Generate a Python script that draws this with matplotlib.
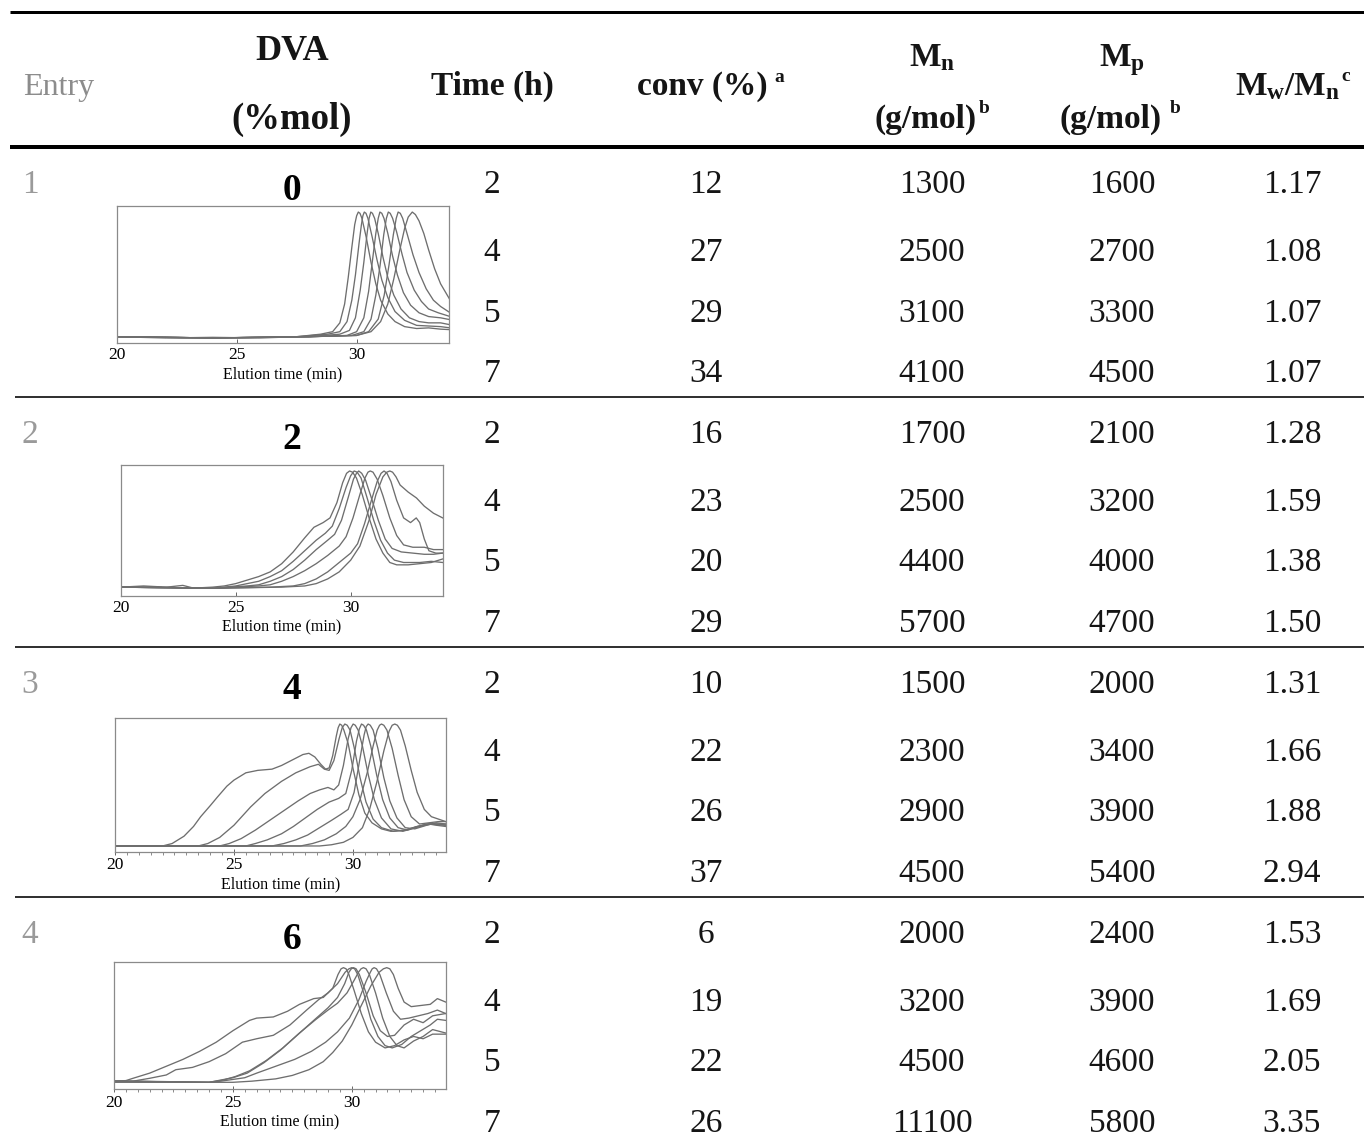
import matplotlib
matplotlib.use('Agg')
import matplotlib.pyplot as plt
from matplotlib.ticker import MultipleLocator

plt.rcParams['font.family'] = ['Liberation Serif', 'DejaVu Serif']
plt.rcParams['mathtext.fontset'] = 'custom'
plt.rcParams['mathtext.rm'] = 'Liberation Serif'
plt.rcParams['mathtext.bf'] = 'Liberation Serif:bold'
plt.rcParams['mathtext.it'] = 'Liberation Serif:italic'

# ---------------- table data ----------------
entries = ['1', '2', '3', '4']
dva = ['0', '2', '4', '6']
times = ['2', '4', '5', '7']
conv = [[12, 27, 29, 34], [16, 23, 20, 29], [10, 22, 26, 37], [6, 19, 22, 26]]
mn = [[1300, 2500, 3100, 4100], [1700, 2500, 4400, 5700],
      [1500, 2300, 2900, 4500], [2000, 3200, 4500, 11100]]
mp = [[1600, 2700, 3300, 4500], [2100, 3200, 4000, 4700],
      [2000, 3400, 3900, 5400], [2400, 3900, 4600, 5800]]
pdi = [['1.17', '1.08', '1.07', '1.07'], ['1.28', '1.59', '1.38', '1.50'],
       ['1.31', '1.66', '1.88', '2.94'], ['1.53', '1.69', '2.05', '3.35']]

# ---------------- GPC traces (elution time min, normalised signal) ----------------
gpc_dva0 = [
    [(20, 0.01), (22, 0.0), (24, 0.005), (26, 0.0), (27.5, 0.01), (28.5, 0.03), (29.0, 0.05), (29.3, 0.12),
     (29.5, 0.27), (29.65, 0.48), (29.8, 0.72), (29.92, 0.9), (30.0, 0.97), (30.07, 1.0), (30.14, 0.99),
     (30.22, 0.95), (30.4, 0.8), (30.6, 0.6), (30.8, 0.43), (31.0, 0.3), (31.3, 0.19), (31.6, 0.13),
     (32.0, 0.09), (32.5, 0.075), (33.0, 0.08), (33.5, 0.07), (33.9, 0.066)],
    [(20, 0.01), (24, 0.0), (27.5, 0.01), (28.8, 0.03), (29.3, 0.05), (29.6, 0.13), (29.8, 0.3), (29.95, 0.5),
     (30.1, 0.75), (30.2, 0.9), (30.26, 0.97), (30.32, 1.0), (30.39, 0.99), (30.47, 0.95), (30.65, 0.8),
     (30.85, 0.62), (31.05, 0.46), (31.3, 0.32), (31.6, 0.21), (32.0, 0.14), (32.5, 0.1), (33.0, 0.095),
     (33.5, 0.09), (33.9, 0.08)],
    [(20, 0.01), (24, 0.0), (28, 0.01), (29.3, 0.03), (29.7, 0.06), (29.95, 0.16), (30.15, 0.38), (30.3, 0.6),
     (30.43, 0.82), (30.52, 0.95), (30.59, 1.0), (30.66, 0.99), (30.75, 0.95), (30.9, 0.83), (31.1, 0.64),
     (31.3, 0.48), (31.55, 0.34), (31.85, 0.23), (32.2, 0.16), (32.6, 0.13), (33.0, 0.12), (33.5, 0.12),
     (33.9, 0.105)],
    [(20, 0.01), (24, 0.0), (28, 0.01), (29.6, 0.02), (30.0, 0.05), (30.3, 0.16), (30.5, 0.37), (30.65, 0.6),
     (30.8, 0.83), (30.9, 0.95), (30.97, 1.0), (31.05, 0.99), (31.14, 0.95), (31.3, 0.83), (31.5, 0.65),
     (31.7, 0.5), (31.95, 0.36), (32.25, 0.26), (32.6, 0.2), (33.0, 0.17), (33.5, 0.16), (33.9, 0.145)],
    [(20, 0.01), (24, 0.0), (28, 0.01), (29.8, 0.02), (30.3, 0.05), (30.6, 0.15), (30.8, 0.34), (30.98, 0.58),
     (31.13, 0.82), (31.24, 0.95), (31.32, 1.0), (31.4, 0.99), (31.5, 0.95), (31.67, 0.84), (31.9, 0.66),
     (32.1, 0.52), (32.4, 0.38), (32.7, 0.29), (33.0, 0.23), (33.4, 0.2), (33.9, 0.17)],
    [(20, 0.01), (24, 0.0), (28, 0.01), (30.0, 0.02), (30.5, 0.05), (30.9, 0.15), (31.15, 0.34), (31.35, 0.58),
     (31.53, 0.82), (31.65, 0.95), (31.73, 1.0), (31.82, 0.99), (31.92, 0.95), (32.1, 0.83), (32.35, 0.66),
     (32.6, 0.52), (32.9, 0.39), (33.2, 0.3), (33.5, 0.25), (33.9, 0.2)],
    [(20, 0.01), (24, 0.0), (28, 0.01), (30.0, 0.02), (30.6, 0.05), (31.0, 0.13), (31.3, 0.27), (31.55, 0.47),
     (31.8, 0.7), (32.0, 0.87), (32.15, 0.96), (32.32, 1.0), (32.45, 0.98), (32.6, 0.93), (32.8, 0.83),
     (33.0, 0.7), (33.25, 0.55), (33.5, 0.43), (33.9, 0.3)],
]

gpc_dva2 = [
    [(20, 0.01), (21, 0.02), (22, 0.01), (23, 0.0), (24, 0.01), (24.5, 0.02), (25.0, 0.04), (25.5, 0.07),
     (26.0, 0.1), (26.5, 0.14), (27.0, 0.21), (27.5, 0.31), (28.0, 0.43), (28.4, 0.52), (28.8, 0.56),
     (29.1, 0.6), (29.4, 0.73), (29.65, 0.9), (29.82, 0.98), (29.95, 1.0), (30.08, 0.99), (30.25, 0.94),
     (30.5, 0.8), (30.8, 0.6), (31.1, 0.42), (31.4, 0.3), (31.7, 0.22), (32.0, 0.2), (32.5, 0.2),
     (33.0, 0.21), (33.5, 0.22), (34, 0.25)],
    [(20, 0.01), (22, 0.01), (22.7, 0.025), (23.2, 0.0), (24, 0.0), (25.0, 0.02), (25.5, 0.04), (26.0, 0.06),
     (26.5, 0.1), (27.0, 0.15), (27.5, 0.23), (28.0, 0.32), (28.5, 0.41), (28.9, 0.47), (29.2, 0.53),
     (29.5, 0.68), (29.8, 0.86), (30.0, 0.96), (30.15, 1.0), (30.28, 0.99), (30.45, 0.94), (30.7, 0.78),
     (31.0, 0.58), (31.3, 0.41), (31.6, 0.3), (31.9, 0.24), (32.3, 0.22), (33.0, 0.22), (33.5, 0.23),
     (34, 0.22)],
    [(20, 0.01), (22, 0.005), (24, 0.0), (25.5, 0.02), (26.0, 0.03), (26.5, 0.06), (27.0, 0.1), (27.5, 0.16),
     (28.0, 0.24), (28.5, 0.33), (29.0, 0.41), (29.3, 0.46), (29.6, 0.58), (29.9, 0.78), (30.12, 0.93),
     (30.25, 0.98), (30.35, 1.0), (30.48, 0.98), (30.65, 0.92), (30.9, 0.77), (31.2, 0.58), (31.5, 0.42),
     (31.8, 0.34), (32.2, 0.31), (32.7, 0.3), (33.2, 0.29), (33.6, 0.29), (34, 0.3)],
    [(20, 0.01), (22, 0.005), (24, 0.0), (26.0, 0.02), (26.5, 0.03), (27.0, 0.06), (27.5, 0.1), (28.0, 0.15),
     (28.5, 0.21), (29.0, 0.28), (29.5, 0.36), (29.8, 0.44), (30.1, 0.6), (30.4, 0.8), (30.62, 0.94),
     (30.75, 0.99), (30.85, 1.0), (30.97, 0.99), (31.15, 0.93), (31.4, 0.79), (31.7, 0.6), (32.0, 0.45),
     (32.3, 0.37), (32.7, 0.35), (33.2, 0.35), (33.6, 0.33), (34, 0.33)],
    [(20, 0.01), (22, 0.005), (24, 0.0), (26.5, 0.01), (27.5, 0.02), (28.0, 0.04), (28.5, 0.08), (29.0, 0.14),
     (29.5, 0.22), (30.0, 0.3), (30.3, 0.38), (30.6, 0.55), (30.9, 0.75), (31.15, 0.91), (31.32, 0.98),
     (31.45, 1.0), (31.58, 0.98), (31.75, 0.91), (32.0, 0.75), (32.3, 0.6), (32.6, 0.56), (32.85, 0.6),
     (33.0, 0.56), (33.2, 0.42), (33.4, 0.32), (33.7, 0.3), (34, 0.3)],
    [(20, 0.01), (22, 0.005), (24, 0.0), (27.0, 0.01), (28.0, 0.02), (28.5, 0.04), (29.0, 0.08), (29.5, 0.14),
     (30.0, 0.24), (30.4, 0.36), (30.8, 0.58), (31.1, 0.8), (31.4, 0.95), (31.57, 0.99), (31.7, 1.0),
     (31.82, 0.99), (31.97, 0.95), (32.15, 0.88), (32.5, 0.82), (32.86, 0.77), (33.2, 0.7), (33.6, 0.64),
     (34, 0.6)],
]

gpc_dva4 = [
    [(20, 0.0), (22.0, 0.0), (22.4, 0.02), (22.9, 0.08), (23.3, 0.16), (23.6, 0.24), (24.0, 0.33),
     (24.3, 0.40), (24.7, 0.49), (25.0, 0.54), (25.5, 0.6), (26.0, 0.62), (26.6, 0.63), (27.0, 0.66),
     (27.5, 0.71), (27.9, 0.75), (28.15, 0.76), (28.4, 0.73), (28.65, 0.67), (28.85, 0.63), (29.0, 0.64),
     (29.15, 0.74), (29.3, 0.9), (29.38, 0.97), (29.45, 1.0), (29.53, 0.99), (29.62, 0.95), (29.8, 0.84),
     (30.0, 0.64), (30.25, 0.42), (30.5, 0.27), (30.8, 0.19), (31.2, 0.14), (31.6, 0.12), (32.2, 0.13),
     (32.7, 0.16), (33.2, 0.18), (33.5, 0.17), (33.9, 0.16)],
    [(20, 0.0), (23.5, 0.0), (23.9, 0.02), (24.4, 0.07), (25.0, 0.17), (25.7, 0.32), (26.3, 0.43),
     (27.0, 0.53), (27.6, 0.6), (28.2, 0.65), (28.55, 0.67), (28.8, 0.63), (29.0, 0.62), (29.2, 0.7),
     (29.42, 0.88), (29.55, 0.97), (29.66, 1.0), (29.76, 0.99), (29.88, 0.95), (30.05, 0.81), (30.3, 0.56),
     (30.55, 0.36), (30.85, 0.22), (31.2, 0.15), (31.7, 0.12), (32.2, 0.13), (32.7, 0.16), (33.2, 0.18),
     (33.9, 0.17)],
    [(20, 0.0), (24.4, 0.0), (24.8, 0.02), (25.3, 0.06), (25.9, 0.13), (26.5, 0.21), (27.1, 0.29),
     (27.7, 0.37), (28.2, 0.43), (28.6, 0.46), (28.95, 0.48), (29.2, 0.46), (29.4, 0.5), (29.6, 0.66),
     (29.8, 0.88), (29.92, 0.97), (30.01, 1.0), (30.1, 0.99), (30.22, 0.95), (30.4, 0.82), (30.65, 0.58),
     (30.9, 0.38), (31.2, 0.23), (31.6, 0.14), (32.1, 0.12), (32.6, 0.15), (33.1, 0.18), (33.5, 0.18),
     (33.9, 0.17)],
    [(20, 0.0), (25.5, 0.0), (25.9, 0.02), (26.4, 0.05), (27.0, 0.1), (27.5, 0.16), (28.0, 0.23),
     (28.5, 0.3), (29.0, 0.36), (29.4, 0.39), (29.7, 0.43), (29.95, 0.62), (30.15, 0.86), (30.27, 0.96),
     (30.36, 1.0), (30.45, 0.99), (30.57, 0.95), (30.75, 0.82), (31.0, 0.58), (31.25, 0.38), (31.55, 0.23),
     (31.9, 0.15), (32.3, 0.13), (32.8, 0.16), (33.3, 0.18), (33.9, 0.18)],
    [(20, 0.0), (26.6, 0.0), (27.1, 0.02), (27.6, 0.05), (28.1, 0.09), (28.6, 0.15), (29.1, 0.21),
     (29.5, 0.26), (29.8, 0.3), (30.05, 0.44), (30.3, 0.72), (30.47, 0.91), (30.56, 0.98), (30.64, 1.0),
     (30.73, 0.99), (30.85, 0.95), (31.05, 0.8), (31.3, 0.56), (31.55, 0.37), (31.85, 0.23), (32.2, 0.15),
     (32.6, 0.14), (33.1, 0.17), (33.5, 0.19), (33.9, 0.18)],
    [(20, 0.0), (27.8, 0.0), (28.3, 0.02), (28.8, 0.05), (29.3, 0.1), (29.7, 0.16), (30.0, 0.24),
     (30.3, 0.38), (30.6, 0.6), (30.85, 0.82), (31.02, 0.95), (31.12, 0.99), (31.2, 1.0), (31.3, 0.99),
     (31.43, 0.95), (31.65, 0.8), (31.9, 0.58), (32.15, 0.38), (32.45, 0.24), (32.8, 0.18), (33.2, 0.19),
     (33.6, 0.2), (33.9, 0.2)],
    [(20, 0.0), (28.6, 0.0), (29.1, 0.01), (29.6, 0.03), (30.0, 0.07), (30.4, 0.15), (30.7, 0.3),
     (31.0, 0.52), (31.3, 0.78), (31.52, 0.94), (31.65, 0.99), (31.76, 1.0), (31.87, 0.99), (32.0, 0.95),
     (32.2, 0.82), (32.45, 0.62), (32.7, 0.44), (33.0, 0.3), (33.3, 0.24), (33.6, 0.22), (33.9, 0.2)],
]

gpc_dva6 = [
    [(20, 0.01), (20.5, 0.015), (20.8, 0.035), (21.5, 0.08), (22.2, 0.14), (22.9, 0.2), (23.6, 0.27),
     (24.3, 0.35), (25.0, 0.45), (25.7, 0.54), (26.0, 0.56), (26.7, 0.57), (27.3, 0.62), (27.8, 0.68),
     (28.4, 0.73), (28.8, 0.74), (29.2, 0.82), (29.42, 0.94), (29.55, 0.99), (29.65, 1.0), (29.76, 0.99),
     (29.88, 0.94), (30.1, 0.8), (30.4, 0.6), (30.7, 0.44), (31.0, 0.35), (31.4, 0.3), (31.8, 0.32),
     (32.2, 0.37), (32.6, 0.4), (33.0, 0.38), (33.4, 0.42), (33.95, 0.42)],
    [(20, 0.01), (20.8, 0.01), (21.5, 0.035), (22.2, 0.064), (22.6, 0.11), (23.3, 0.13), (24.0, 0.18),
     (24.7, 0.25), (25.4, 0.35), (26.0, 0.38), (26.7, 0.41), (27.4, 0.5), (28.1, 0.63), (28.6, 0.72),
     (29.0, 0.78), (29.4, 0.86), (29.72, 0.96), (29.88, 0.99), (30.0, 1.0), (30.12, 0.99), (30.25, 0.94),
     (30.5, 0.78), (30.8, 0.55), (31.1, 0.4), (31.4, 0.32), (31.7, 0.3), (32.1, 0.33), (32.5, 0.4),
     (32.9, 0.45), (33.3, 0.5), (33.6, 0.55), (33.95, 0.54)],
    [(20, 0.01), (21, 0.01), (24, 0.0), (24.5, 0.02), (25.0, 0.04), (25.6, 0.08), (26.3, 0.17), (27.0, 0.28),
     (27.7, 0.41), (28.4, 0.54), (29.0, 0.65), (29.4, 0.74), (29.7, 0.86), (29.88, 0.96), (29.98, 0.99),
     (30.07, 1.0), (30.18, 0.99), (30.32, 0.94), (30.6, 0.78), (30.9, 0.58), (31.2, 0.45), (31.5, 0.4),
     (31.8, 0.41), (32.2, 0.5), (32.6, 0.55), (33.0, 0.52), (33.4, 0.58), (33.95, 0.6)],
    [(20, 0.01), (24, 0.0), (24.6, 0.02), (25.1, 0.05), (25.7, 0.1), (26.4, 0.19), (27.1, 0.3), (27.8, 0.43),
     (28.5, 0.55), (29.0, 0.63), (29.4, 0.69), (29.8, 0.78), (30.1, 0.89), (30.28, 0.96), (30.39, 0.99),
     (30.49, 1.0), (30.6, 0.99), (30.74, 0.94), (31.0, 0.78), (31.3, 0.56), (31.6, 0.4), (31.9, 0.32),
     (32.2, 0.3), (32.6, 0.36), (33.0, 0.4), (33.4, 0.46), (33.95, 0.43)],
    [(20, 0.01), (24, 0.0), (24.5, 0.01), (25.5, 0.04), (26.0, 0.08), (26.8, 0.14), (27.6, 0.2), (28.3, 0.27),
     (28.9, 0.35), (29.4, 0.44), (29.9, 0.56), (30.3, 0.72), (30.6, 0.88), (30.78, 0.96), (30.86, 0.99),
     (30.94, 1.0), (31.04, 0.99), (31.18, 0.94), (31.45, 0.78), (31.75, 0.62), (32.05, 0.55), (32.4, 0.56),
     (32.8, 0.58), (33.2, 0.6), (33.6, 0.63), (33.95, 0.6)],
    [(20, 0.0), (25, 0.0), (25.8, 0.01), (26.8, 0.03), (27.5, 0.06), (28.2, 0.11), (28.8, 0.18), (29.2, 0.26),
     (29.6, 0.36), (30.0, 0.5), (30.4, 0.67), (30.8, 0.84), (31.15, 0.96), (31.33, 0.99), (31.47, 1.0),
     (31.6, 0.99), (31.75, 0.94), (31.95, 0.82), (32.2, 0.7), (32.5, 0.66), (32.9, 0.67), (33.3, 0.68),
     (33.6, 0.73), (33.95, 0.7)],
]
gpc_sets = [gpc_dva0, gpc_dva2, gpc_dva4, gpc_dva6]
gpc_ticks = [20, 25, 30]

# ---------------- layout (pixels) ----------------
W, H = 1364, 1140
fig = plt.figure(figsize=(W / 100, H / 100), dpi=100)
bg = fig.add_axes([0, 0, 1, 1])
bg.set_xlim(0, W)
bg.set_ylim(H, 0)
bg.axis('off')

PX = 100 / 72.0


def put(x, y, s, size, bold=False, color='#151515', ha='center', cap=0.66):
    base = y + cap * size * PX / 2.0
    bg.text(x, base, s, fontsize=size, fontweight='bold' if bold else 'normal',
            color=color, ha=ha, va='baseline')


# rules
bg.plot([10, W], [12, 12], color='black', lw=3 * 0.72, solid_capstyle='butt')
bg.plot([10, W], [147, 147], color='black', lw=4 * 0.72, solid_capstyle='butt')
for yy in [397, 647, 897]:
    bg.plot([15, W], [yy, yy], color='black', lw=1.6 * 0.72, solid_capstyle='butt')

# header
put(23, 84, 'Entry', 23, color='#8c8c8c', ha='left')
put(292, 48, 'DVA', 26, bold=True)
put(292, 117, '(%mol)', 26.5, bold=True)
put(702, 84, 'conv (%)', 24, bold=True)
put(774, 76, 'a', 14, bold=True, ha='left')
put(492, 84, 'Time (h)', 24, bold=True)
put(932, 55, r'$\mathbf{M}_{\mathbf{n}}$', 24)
put(926, 117, '(g/mol)', 24, bold=True)
put(979, 107, 'b', 14, bold=True, ha='left')
put(1122, 55, r'$\mathbf{M}_{\mathbf{p}}$', 24)
put(1111, 117, '(g/mol)', 24, bold=True)
put(1170, 107, 'b', 14, bold=True, ha='left')
put(1288, 84, r'$\mathbf{M}_{\mathbf{w}}\mathbf{/M}_{\mathbf{n}}$', 24)
put(1341, 75, 'c', 14, bold=True, ha='left')

# body
row_y = [[182, 250, 311, 371], [432, 500, 560, 621], [682, 750, 810, 871], [932, 1000, 1060, 1121]]
dva_y = [188, 437, 687, 937]
col_x = {'time': 492, 'conv': 706, 'mn': 932, 'mp': 1122, 'pdi': 1292}
for g in range(4):
    put(30, row_y[g][0], entries[g], 24, color='#9a9a9a')
    put(292, dva_y[g], dva[g], 27, bold=True, color='black')
    for r in range(4):
        y = row_y[g][r]
        put(col_x['time'], y, times[r], 24)
        put(col_x['conv'], y, str(conv[g][r]), 24)
        put(col_x['mn'], y, str(mn[g][r]), 24)
        put(col_x['mp'], y, str(mp[g][r]), 24)
        put(col_x['pdi'], y, pdi[g][r], 24)

# insets: (left, right, top, bottom) px, xlim, ylim, minor ticks
insets = [
    ((116.7, 449, 206, 343), (20, 33.85), (-0.04, 1.048), False),
    ((120.7, 442.7, 465, 595.7), (20, 34.0), (-0.063, 1.051), False),
    ((115, 445.7, 718.3, 851.7), (20, 33.9), (-0.047, 1.047), True),
    ((114, 445.7, 961.7, 1089.3), (20, 33.95), (-0.061, 1.052), True),
]
for g, (box, xl, yl, minor) in enumerate(insets):
    l, r, t, b = box
    ax = fig.add_axes([l / W, 1 - b / H, (r - l) / W, (b - t) / H])
    for c in gpc_sets[g]:
        ax.plot([p[0] for p in c], [p[1] for p in c], color='#6e6e6e', lw=0.95,
                solid_joinstyle='round')
    ax.set_xlim(*xl)
    ax.set_ylim(*yl)
    ax.set_yticks([])
    ax.set_xticks(gpc_ticks)
    ax.set_xticklabels([str(v) for v in gpc_ticks], fontsize=12.5)
    if minor:
        ax.xaxis.set_minor_locator(MultipleLocator(0.5))
        ax.tick_params(axis='x', which='minor', direction='out', length=2.5, width=0.6, color='#777777')
        ax.tick_params(axis='x', which='major', direction='inout', length=5, width=0.7, color='#666666', pad=1.5)
    else:
        ax.tick_params(axis='x', which='major', direction='in', length=3, width=0.7, color='#666666', pad=3)
    for s in ax.spines.values():
        s.set_color('#8a8a8a')
        s.set_linewidth(0.9)
    ax.set_xlabel('Elution time (min)', fontsize=11.5, labelpad=2)

fig.savefig('out.png', dpi=100)
